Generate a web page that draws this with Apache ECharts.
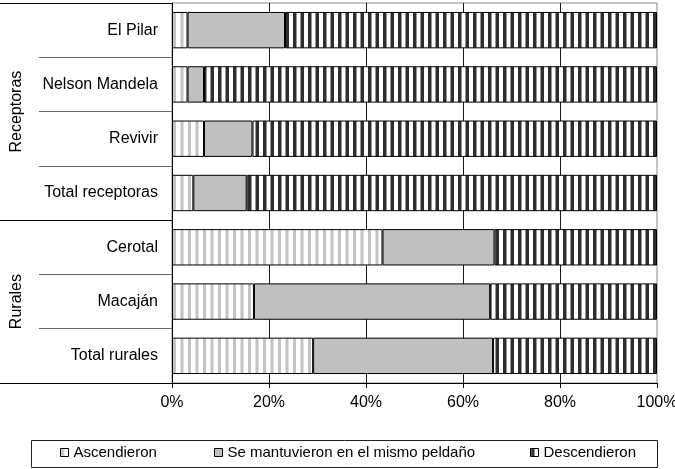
<!DOCTYPE html>
<html>
<head>
<meta charset="utf-8">
<script src="https://cdn.jsdelivr.net/npm/echarts@6/dist/echarts.min.js"></script>
<style>
  html, body { margin: 0; padding: 0; background: #fff; }
  #chart { width: 675px; height: 469px; }
</style>
</head>
<body>
<div id="chart"></div>
<script>
// datos (porcentaje de hogares)
var categories = ['El Pilar', 'Nelson Mandela', 'Revivir', 'Total receptoras', 'Cerotal', 'Macaján', 'Total rurales'];
var ascendieron = [3.2, 3.2, 6.6, 4.4, 43.4, 16.9, 29.1];
var mantuvieron = [20.1, 3.4, 10.0, 11.0, 23.1, 48.7, 37.1];
var descendieron = [76.7, 93.4, 83.4, 84.6, 33.5, 34.4, 33.8];
var groups = ['Receptoras', 'Rurales'];
var groupSizes = [4, 3];
var seriesNames = ['Ascendieron', 'Se mantuvieron en el mismo peldaño', 'Descendieron'];

var FONT = '"Liberation Sans", Arial, sans-serif';

// rayas verticales
function stripes(fg, stripeW) {
    var c = document.createElement('canvas');
    c.width = 15;
    c.height = 4;
    var ctx = c.getContext('2d');
    ctx.fillStyle = '#fff';
    ctx.fillRect(0, 0, 15, 4);
    ctx.fillStyle = fg;
    ctx.fillRect(0.5, 0, stripeW, 4);
    ctx.fillRect(8, 0, stripeW, 4);
    return { image: c, repeat: 'repeat' };
}

var patAsc = stripes('#c4c4c4', 3);
var patDesc = stripes('#2e2e2e', 3.5);

// bordes de grupo (índice de la primera categoría de cada grupo)
var groupStarts = [];
var acc = 0;
groupSizes.forEach(function (n) { groupStarts.push(acc); acc += n; });

var chart = echarts.init(document.getElementById('chart'));

function barSeries(name, data, color) {
    return {
        name: name,
        type: 'bar',
        stack: 'total',
        barWidth: '67%',
        data: data,
        itemStyle: { color: color, borderColor: '#000', borderWidth: 1 },
        emphasis: { disabled: true }
    };
}

function legendAt(left, name) {
    return {
        data: [name],
        left: left,
        top: 445,
        padding: 0,
        icon: 'rect',
        itemWidth: 8,
        itemHeight: 8,
        itemStyle: { borderColor: '#000', borderWidth: 1 },
        textStyle: { fontFamily: FONT, fontSize: 15, color: '#000' },
        selectedMode: false
    };
}

var option = {
    animation: false,
    grid: {
        left: 172, right: 18, top: 3, bottom: 86,
        outerBoundsMode: 'none',
        show: true, borderColor: '#8a8a8a', borderWidth: 1
    },
    legend: [
        legendAt(60, seriesNames[0]),
        legendAt(214, seriesNames[1]),
        legendAt(530, seriesNames[2])
    ],
    xAxis: {
        type: 'value',
        min: 0,
        max: 100,
        interval: 20,
        axisLine: { show: true, lineStyle: { color: '#000' } },
        axisTick: { show: true, length: 5, lineStyle: { color: '#000' } },
        axisLabel: { formatter: '{value}%', fontFamily: FONT, fontSize: 16, color: '#000', margin: 12, hideOverlap: false },
        splitLine: { show: true, showMinLine: false, showMaxLine: false, lineStyle: { color: '#1a1a1a' } }
    },
    yAxis: [{
        type: 'category',
        data: categories,
        inverse: true,
        axisLine: { show: true, lineStyle: { color: '#000' } },
        axisTick: { show: true, length: 133, lineStyle: { color: '#6a6a6a' } },
        axisLabel: { fontFamily: FONT, fontSize: 16, color: '#000', margin: 14 }
    }, {
        type: 'category',
        data: categories,
        inverse: true,
        position: 'left',
        axisLine: { show: false },
        axisLabel: { show: false },
        axisTick: {
            show: true,
            length: 172,
            interval: function (i) { return groupStarts.indexOf(i) >= 0; },
            lineStyle: { color: '#000' }
        }
    }],
    series: [
        barSeries(seriesNames[0], ascendieron, patAsc),
        barSeries(seriesNames[1], mantuvieron, '#c0c0c0'),
        barSeries(seriesNames[2], descendieron, patDesc)
    ]
};

chart.setOption(option);

// etiquetas de grupo y recuadro de la leyenda
var graphics = groups.map(function (g, k) {
    var first = groupStarts[k];
    var last = first + groupSizes[k] - 1;
    var y = (chart.convertToPixel({ yAxisIndex: 0 }, categories[first]) +
             chart.convertToPixel({ yAxisIndex: 0 }, categories[last])) / 2;
    return {
        type: 'text',
        x: 17,
        y: y,
        rotation: Math.PI / 2,
        style: {
            text: g,
            font: '16px ' + FONT,
            fill: '#000',
            align: 'center',
            verticalAlign: 'middle'
        }
    };
});
graphics.push({
    type: 'rect',
    shape: { x: 31.5, y: 440.5, width: 626, height: 27 },
    style: { fill: 'none', stroke: '#222', lineWidth: 1 },
    z: -1
});
chart.setOption({ graphic: graphics });
</script>
</body>
</html>
